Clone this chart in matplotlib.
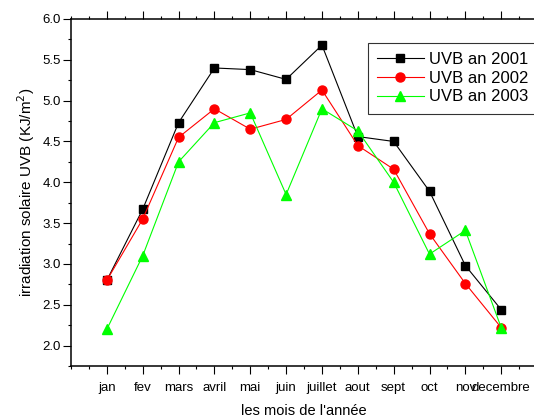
import numpy as np
import matplotlib
matplotlib.use("Agg")
import matplotlib.pyplot as plt
from matplotlib.ticker import MultipleLocator

months = ["jan", "fev", "mars", "avril", "mai", "juin", "juillet", "aout",
          "sept", "oct", "nov", "decembre"]
uvb_2001 = [2.80, 3.67, 4.73, 5.40, 5.38, 5.26, 5.68, 4.56, 4.50, 3.89, 2.98, 2.44]
uvb_2002 = [2.80, 3.55, 4.55, 4.90, 4.65, 4.77, 5.13, 4.45, 4.16, 3.37, 2.76, 2.22]
uvb_2003 = [2.20, 3.10, 4.25, 4.73, 4.85, 3.85, 4.90, 4.63, 4.00, 3.12, 3.41, 2.22]

plt.rcParams["font.family"] = ["Liberation Sans", "DejaVu Sans"]
fig = plt.figure(figsize=(5.34, 4.19), dpi=100)
# axes runs a little past the right edge of the picture, as in the original
ax = fig.add_axes([0.133, 0.1265, 0.8727, 0.8282])

x = np.arange(1, len(months) + 1)
ax.plot(x, uvb_2001, color="black", lw=0.8, marker="s", ms=6, label="UVB an 2001")
ax.plot(x, uvb_2002, color="#ff0000", lw=0.8, marker="o", ms=6.5, label="UVB an 2002")
ax.plot(x, uvb_2003, color="#00ff00", lw=0.8, marker="^", ms=7, label="UVB an 2003")

ax.set_xlim(0, 13)
ax.set_ylim(1.75, 6.0)
ax.set_xticks(x)
ax.set_xticklabels(months, fontsize=9.5)
ax.xaxis.set_minor_locator(MultipleLocator(0.5))
ax.yaxis.set_major_locator(MultipleLocator(0.5))
ax.yaxis.set_minor_locator(MultipleLocator(0.25))
ax.tick_params(axis="y", labelsize=9.5, pad=2)
ax.tick_params(which="major", length=5.5, width=0.8, direction="out")
ax.tick_params(which="minor", length=2.5, width=0.8, direction="out")
ax.tick_params(axis="x", which="major", pad=6)
ax.tick_params(axis="x", which="both", top=True)
for s in ax.spines.values():
    s.set_linewidth(1.1)

ax.set_xlabel("les mois de l'année", fontsize=10.5, labelpad=7)
ax.set_ylabel("irradiation solaire UVB (KJ/m$^2$)", fontsize=11, labelpad=4)

leg = ax.legend(loc="upper right", bbox_to_anchor=(1.0, 0.931), borderaxespad=0,
                fontsize=12, frameon=True, fancybox=False, edgecolor="black",
                handlelength=2.8, borderpad=0.55, labelspacing=0.22, handletextpad=0.3)
leg.get_frame().set_linewidth(0.8)

fig.savefig("out.png", dpi=100)
